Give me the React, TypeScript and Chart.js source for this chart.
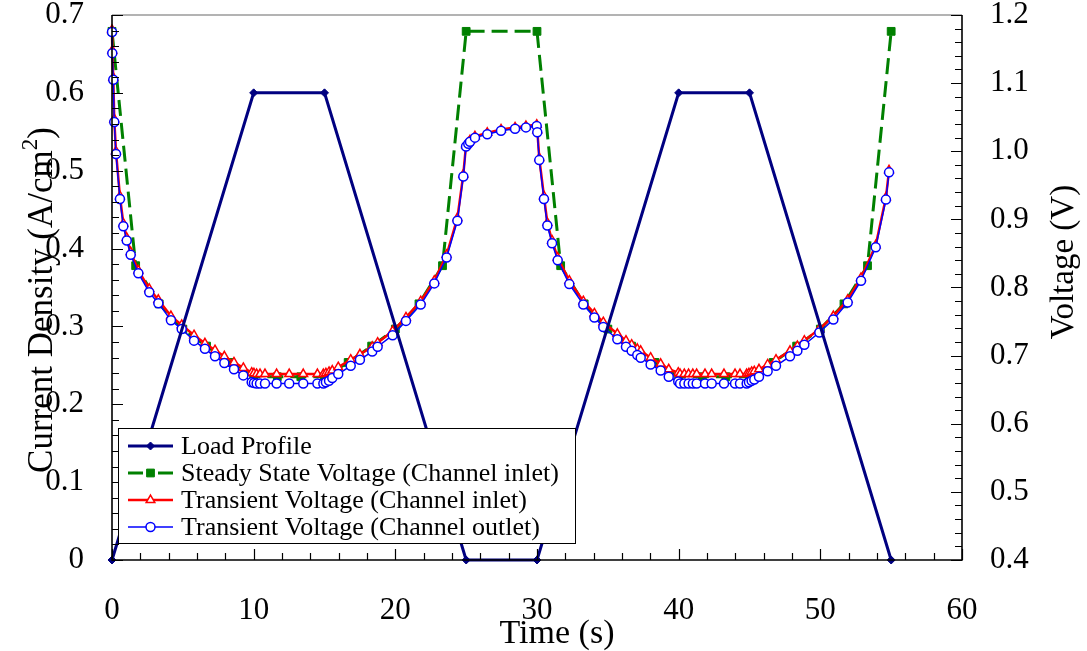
import React, { useEffect, useRef } from 'react';
import { Chart, registerables } from 'chart.js';

Chart.register(...registerables);

// ---------- data ----------
const loadTime = [0, 10, 15, 25, 30, 40, 45, 55];
const loadDensity = [0, 0.6, 0.6, 0, 0, 0.6, 0.6, 0];

const steadyTime = [0, 1.67, 3.33, 5, 6.67, 8.33, 10, 11.67, 13.33, 15, 16.67, 18.33, 20, 21.67, 23.33, 25,
  30, 31.67, 33.33, 35, 36.67, 38.33, 40, 41.67, 43.33, 45, 46.67, 48.33, 50, 51.67, 53.33, 55];
const steadyVoltage = [1.176, 0.832, 0.776, 0.739, 0.714, 0.69, 0.669, 0.669, 0.669, 0.669, 0.69, 0.714, 0.739, 0.776, 0.832, 1.176,
  1.176, 0.832, 0.776, 0.739, 0.714, 0.69, 0.669, 0.669, 0.669, 0.669, 0.69, 0.714, 0.739, 0.776, 0.832, 1.176];

const transientTime = [
  0.0, 0.02, 0.09, 0.16, 0.28, 0.56, 0.8, 1.04, 1.32, 1.86, 2.63, 3.27, 4.16, 4.92, 5.79, 6.56, 7.27, 7.93, 8.61, 9.27,
  9.86, 10.02, 10.21, 10.45, 10.8, 11.62, 12.51, 13.5, 14.5, 14.92, 15.1, 15.32, 15.55, 15.97, 16.85, 17.5, 18.37, 18.75,
  19.81, 20.75, 21.79, 22.75, 23.62, 24.38, 24.8, 24.99, 25.15, 25.27, 25.62, 26.49, 27.46, 28.45, 29.22, 29.98,
  30.02, 30.16, 30.49, 30.73, 31.06, 31.46, 32.28, 33.27, 34.05, 34.68, 35.67, 36.28, 36.68, 37.08, 37.32, 38.02, 38.73,
  39.3, 39.97, 40.1, 40.4, 40.7, 41.0, 41.27, 41.86, 42.33, 43.2, 43.98, 44.33, 44.8, 44.96, 45.15, 45.34, 45.67, 46.28,
  46.87, 47.86, 48.38, 48.87, 49.93, 50.92, 51.93, 52.87, 53.91, 54.63, 54.85,
];
const inletVoltage = [
  1.178, 1.148, 1.108, 1.047, 1.0, 0.934, 0.894, 0.873, 0.852, 0.825, 0.798, 0.782, 0.758, 0.745, 0.73, 0.718, 0.708, 0.699, 0.69, 0.682,
  0.675, 0.674, 0.673, 0.673, 0.673, 0.673, 0.673, 0.673, 0.673, 0.673, 0.674, 0.676, 0.678, 0.683, 0.694, 0.702, 0.713, 0.719,
  0.736, 0.756, 0.78, 0.81, 0.848, 0.902, 0.966, 1.009, 1.013, 1.016, 1.022, 1.027, 1.032, 1.035, 1.037, 1.039,
  1.031, 0.99, 0.934, 0.895, 0.869, 0.844, 0.81, 0.78, 0.762, 0.749, 0.732, 0.722, 0.716, 0.71, 0.707, 0.697, 0.688,
  0.68, 0.675, 0.673, 0.673, 0.673, 0.673, 0.673, 0.673, 0.673, 0.673, 0.673, 0.673, 0.673, 0.674, 0.676, 0.677, 0.68, 0.687,
  0.694, 0.707, 0.714, 0.722, 0.739, 0.758, 0.782, 0.814, 0.862, 0.932, 0.972,
];
const outletVoltage = [
  1.175, 1.144, 1.105, 1.043, 0.996, 0.93, 0.89, 0.869, 0.848, 0.821, 0.793, 0.777, 0.752, 0.739, 0.722, 0.71, 0.699, 0.689, 0.68, 0.671,
  0.661, 0.66, 0.659, 0.659, 0.659, 0.659, 0.659, 0.659, 0.659, 0.659, 0.661, 0.663, 0.667, 0.673, 0.685, 0.694, 0.706, 0.713,
  0.73, 0.751, 0.775, 0.806, 0.844, 0.898, 0.963, 1.007, 1.011, 1.014, 1.02, 1.025, 1.03, 1.033, 1.035, 1.037,
  1.028, 0.987, 0.93, 0.891, 0.865, 0.84, 0.805, 0.775, 0.756, 0.742, 0.724, 0.713, 0.707, 0.701, 0.697, 0.687, 0.678,
  0.669, 0.662, 0.659, 0.659, 0.659, 0.659, 0.659, 0.659, 0.659, 0.659, 0.659, 0.659, 0.659, 0.661, 0.663, 0.665, 0.669, 0.677,
  0.685, 0.699, 0.707, 0.716, 0.734, 0.753, 0.778, 0.81, 0.859, 0.929, 0.969,
];

const seriesLabels = [
  'Load Profile',
  'Steady State Voltage (Channel inlet)',
  'Transient Voltage (Channel inlet)',
  'Transient Voltage (Channel outlet)',
];

const xTitle = 'Time (s)';
const yTitleMain = 'Current Density (A/cm';
const yTitleSup = '2';
const yTitleEnd = ')';
const y1Title = 'Voltage (V)';

// ---------- style ----------
const FONT = '"Liberation Serif", "Times New Roman", serif';
const NAVY = '#000080';
const GREEN = '#008000';
const RED = '#FF0000';
const BLUE = '#0000FF';

const pts = (xs: number[], ys: number[]) => xs.map((x, i) => ({ x, y: ys[i] }));

const range = (a: number, b: number, s: number) => {
  const out: number[] = [];
  const n = Math.round((b - a) / s);
  for (let i = 0; i <= n; i++) out.push(a + i * s);
  return out;
};

function drawMarker(ctx: CanvasRenderingContext2D, style: string, r: number, x: number, y: number) {
  ctx.beginPath();
  if (style === 'circle') {
    ctx.arc(x, y, r, 0, Math.PI * 2);
  } else if (style === 'rect') {
    const s = Math.SQRT1_2 * r;
    ctx.rect(x - s, y - s, 2 * s, 2 * s);
  } else if (style === 'rectRot') {
    ctx.moveTo(x, y - r); ctx.lineTo(x + r, y); ctx.lineTo(x, y + r); ctx.lineTo(x - r, y); ctx.closePath();
  } else if (style === 'triangle') {
    ctx.moveTo(x, y - r);
    ctx.lineTo(x + r * 0.866, y + r * 0.5);
    ctx.lineTo(x - r * 0.866, y + r * 0.5);
    ctx.closePath();
  }
  ctx.fill();
  ctx.stroke();
}

const framePlugin = {
  id: 'frame',
  afterDraw(chart: any) {
    const { ctx, chartArea: a, scales } = chart;
    const xs = scales.x, ys = scales.y, y1 = scales.y1;
    ctx.save();
    // top border (grey)
    ctx.strokeStyle = '#9a9a9a';
    ctx.lineWidth = 1.5;
    ctx.beginPath();
    ctx.moveTo(a.left, a.top);
    ctx.lineTo(a.right, a.top);
    ctx.stroke();
    // axis lines
    ctx.strokeStyle = '#000';
    ctx.lineWidth = 1.6;
    ctx.beginPath();
    ctx.moveTo(a.left, a.top);
    ctx.lineTo(a.left, a.bottom);
    ctx.lineTo(a.right, a.bottom);
    ctx.lineTo(a.right, a.top);
    ctx.stroke();
    // inward ticks
    ctx.lineWidth = 1.2;
    ctx.beginPath();
    const isMajor = (v: number, step: number, base: number) =>
      Math.abs((v - base) / step - Math.round((v - base) / step)) < 1e-6;
    range(0, 60, 2).forEach((v) => {
      const px = Math.round(xs.getPixelForValue(v)) + 0.5;
      const len = isMajor(v, 10, 0) ? 11 : 7;
      ctx.moveTo(px, a.bottom);
      ctx.lineTo(px, a.bottom - len);
    });
    range(0, 0.7, 0.02).forEach((v) => {
      const py = Math.round(ys.getPixelForValue(v)) + 0.5;
      const len = isMajor(v, 0.1, 0) ? 11 : 7;
      ctx.moveTo(a.left, py);
      ctx.lineTo(a.left + len, py);
    });
    range(0.4, 1.2, 0.02).forEach((v) => {
      const py = Math.round(y1.getPixelForValue(v)) + 0.5;
      const len = isMajor(v, 0.1, 0.4) ? 11 : 7;
      ctx.moveTo(a.right, py);
      ctx.lineTo(a.right - len, py);
    });
    ctx.stroke();

    // axis titles
    ctx.fillStyle = '#000';
    ctx.font = `34px ${FONT}`;
    ctx.textAlign = 'center';
    ctx.textBaseline = 'alphabetic';
    ctx.fillText(xTitle, 557, 643);

    // left title with superscript
    ctx.save();
    ctx.translate(52, 300);
    ctx.rotate(-Math.PI / 2);
    ctx.textAlign = 'left';
    ctx.textBaseline = 'alphabetic';
    const mainFont = `35px ${FONT}`;
    const supFont = `23px ${FONT}`;
    ctx.font = mainFont;
    const w1 = ctx.measureText(yTitleMain).width;
    const w3 = ctx.measureText(yTitleEnd).width;
    ctx.font = supFont;
    const w2 = ctx.measureText(yTitleSup).width;
    const total = w1 + w2 + w3;
    let cx = -total / 2;
    ctx.font = mainFont;
    ctx.fillText(yTitleMain, cx, 0);
    cx += w1;
    ctx.font = supFont;
    ctx.fillText(yTitleSup, cx, -15);
    cx += w2;
    ctx.font = mainFont;
    ctx.fillText(yTitleEnd, cx, 0);
    ctx.restore();

    ctx.save();
    ctx.translate(1064, 262);
    ctx.rotate(-Math.PI / 2);
    ctx.font = `33px ${FONT}`;
    ctx.textAlign = 'center';
    ctx.textBaseline = 'middle';
    ctx.fillText(y1Title, 0, 0);
    ctx.restore();

    // legend
    const bx = 118, by = 428, bw = 457, bh = 115;
    ctx.fillStyle = '#fff';
    ctx.fillRect(bx, by, bw, bh);
    ctx.strokeStyle = '#000';
    ctx.lineWidth = 1;
    ctx.strokeRect(bx + 0.5, by + 0.5, bw, bh);
    const rowY = [446, 473, 500, 527];
    const x0 = 128, x1 = 173, xm = (x0 + x1) / 2;
    ctx.font = `26px ${FONT}`;
    ctx.textAlign = 'left';
    ctx.textBaseline = 'middle';
    chart.data.datasets.forEach((ds: any, i: number) => {
      const y = rowY[i];
      ctx.strokeStyle = ds.borderColor;
      ctx.lineWidth = ds.borderWidth;
      ctx.setLineDash([]);
      ctx.beginPath();
      if (ds.borderDash && ds.borderDash.length) {
        ctx.moveTo(x0, y); ctx.lineTo(x0 + 15, y);
        ctx.moveTo(x1 - 15, y); ctx.lineTo(x1, y);
      } else {
        ctx.moveTo(x0, y); ctx.lineTo(x1, y);
      }
      ctx.stroke();
      ctx.fillStyle = ds.pointBackgroundColor;
      ctx.strokeStyle = ds.pointBorderColor;
      ctx.lineWidth = ds.pointBorderWidth;
      drawMarker(ctx, ds.pointStyle, ds.pointRadius, xm, y);
      ctx.fillStyle = '#000';
      ctx.fillText(ds.label, 181, y + 1);
    });
    ctx.restore();
  },
};

export default function App() {
  const ref = useRef<HTMLCanvasElement>(null);
  useEffect(() => {
    const canvas = ref.current!;
    const tickFont = { family: FONT, size: 31 };
    const fixV = (w: number) => (s: any) => { s.width = w; s.paddingTop = 0; s.paddingBottom = 0; };
    const chart = new Chart(canvas, {
      type: 'line',
      data: {
        datasets: [
          {
            label: seriesLabels[0], data: pts(loadTime, loadDensity), yAxisID: 'y',
            borderColor: NAVY, backgroundColor: NAVY, borderWidth: 3,
            pointStyle: 'rectRot', pointRadius: 4, pointBackgroundColor: NAVY, pointBorderColor: NAVY, pointBorderWidth: 1,
            order: 0, clip: false, tension: 0,
          },
          {
            label: seriesLabels[1], data: pts(steadyTime, steadyVoltage), yAxisID: 'y1',
            borderColor: GREEN, backgroundColor: GREEN, borderWidth: 3, borderDash: [16, 7],
            pointStyle: 'rect', pointRadius: 5.5, pointBackgroundColor: GREEN, pointBorderColor: GREEN, pointBorderWidth: 1,
            order: 3, clip: false, tension: 0,
          },
          {
            label: seriesLabels[2], data: pts(transientTime, inletVoltage), yAxisID: 'y1',
            borderColor: RED, backgroundColor: '#fff', borderWidth: 2.5,
            pointStyle: 'triangle', pointRadius: 5, pointBackgroundColor: '#fff', pointBorderColor: RED, pointBorderWidth: 1.5,
            order: 2, clip: false, tension: 0,
          },
          {
            label: seriesLabels[3], data: pts(transientTime, outletVoltage), yAxisID: 'y1',
            borderColor: BLUE, backgroundColor: '#fff', borderWidth: 1.5,
            pointStyle: 'circle', pointRadius: 4.5, pointBackgroundColor: '#fff', pointBorderColor: BLUE, pointBorderWidth: 1.5,
            order: 1, clip: false, tension: 0,
          },
        ],
      },
      options: {
        responsive: false,
        animation: false,
        devicePixelRatio: 1,
        layout: { padding: { top: 15, left: 0, right: 0, bottom: 0 } },
        plugins: { legend: { display: false }, tooltip: { enabled: false } },
        scales: {
          x: {
            type: 'linear', position: 'bottom', min: 0, max: 60,
            ticks: { stepSize: 10, font: tickFont, color: '#000', padding: 24, maxRotation: 0 },
            grid: { display: false }, border: { display: false },
            afterFit: (s: any) => { s.height = 91; s.paddingLeft = 0; s.paddingRight = 0; },
          },
          y: {
            type: 'linear', position: 'left', min: 0, max: 0.7,
            ticks: { stepSize: 0.1, font: tickFont, color: '#000', padding: 20,
              callback: (v: any) => (Math.abs(v) < 1e-9 ? '0' : Number(v).toFixed(1)) },
            grid: { display: false }, border: { display: false },
            afterFit: fixV(112),
          },
          y1: {
            type: 'linear', position: 'right', min: 0.4, max: 1.2,
            ticks: { stepSize: 0.1, font: tickFont, color: '#000', padding: 20,
              callback: (v: any) => Number(v).toFixed(1) },
            grid: { display: false }, border: { display: false },
            afterFit: fixV(125),
          },
        },
      },
      plugins: [framePlugin],
    } as any);
    return () => chart.destroy();
  }, []);
  return (
    <canvas
      ref={ref}
      width={1087}
      height={651}
      style={{ position: 'fixed', left: 0, top: 0, display: 'block', background: '#fff' }}
    />
  );
}
